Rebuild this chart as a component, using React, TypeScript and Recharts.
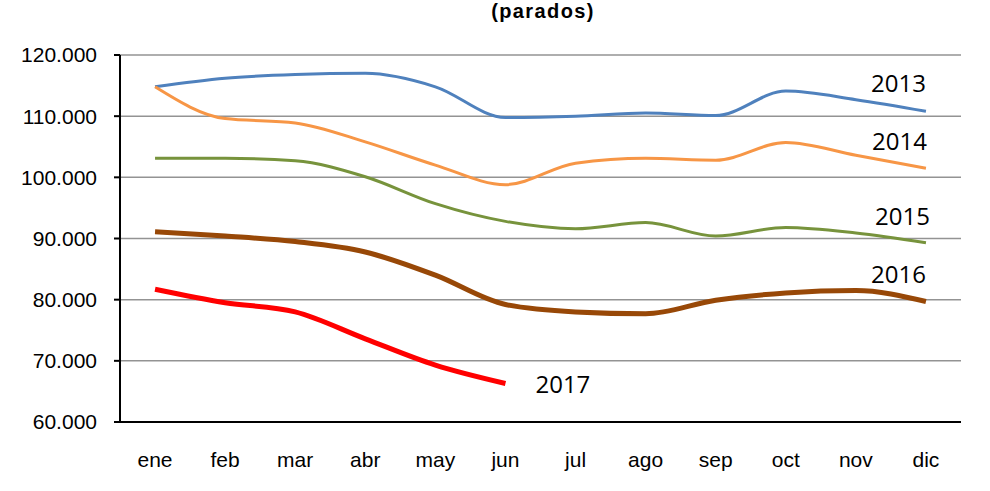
import { LineChart, Line, CartesianGrid, XAxis, YAxis, LabelList } from "recharts";

const months = ["ene", "feb", "mar", "abr", "may", "jun", "jul", "ago", "sep", "oct", "nov", "dic"];
const s2013 = [114800, 116200, 116800, 117000, 114800, 109800, 110000, 110500, 110100, 114100, 112700, 110800];
const s2014 = [114800, 109600, 108900, 105800, 102000, 98800, 102300, 103100, 102800, 105700, 103600, 101500];
const s2015 = [103100, 103100, 102700, 100100, 95700, 92800, 91600, 92600, 90400, 91800, 90900, 89300];
const s2016 = [91100, 90400, 89500, 87800, 84000, 79200, 78000, 77700, 79900, 81100, 81500, 79700];
const s2017 = [81700, 79500, 78000, 73600, 69300, 66300];
const yTicks = [60000, 70000, 80000, 90000, 100000, 110000, 120000];

const data = months.map((m, i) => ({
  mes: m,
  y2013: s2013[i],
  y2014: s2014[i],
  y2015: s2015[i],
  y2016: s2016[i],
  y2017: s2017[i],
}));

const fmt = (v: number) => `${Math.round(v / 1000)}.000`;

// label drawn only next to one point of the series
const yearLabel =
  (text: string, at: number, dx: number, dy: number, anchor: "start" | "end") =>
  (props: any) => {
    if (props.index !== at) return null;
    return (
      <text
        x={Number(props.x) + dx}
        y={Number(props.y) + dy}
        textAnchor={anchor}
        fontFamily="'Open Sans', sans-serif"
        fontSize={24}
        fill="#000"
      >
        {text}
      </text>
    );
  };

export default function App() {
  return (
    <div style={{ position: "absolute", left: 0, top: 0, width: 990, height: 491, background: "#fff" }}>
      <div
        style={{
          position: "absolute",
          left: 0,
          top: 0,
          width: 1086,
          textAlign: "center",
          fontFamily: "'Liberation Sans', Arial, sans-serif",
          fontWeight: "bold",
          fontSize: 20,
          lineHeight: "23px",
          letterSpacing: 1.4,
          color: "#000",
        }}
      >
        (parados)
      </div>
      <LineChart width={990} height={491} data={data} margin={{ top: 55, right: 29, bottom: 9, left: 0 }}>
        <CartesianGrid vertical={false} stroke="#939393" strokeWidth={1.5} />
        <XAxis
          dataKey="mes"
          scale="band"
          height={60}
          tickLine={false}
          tickMargin={24}
          axisLine={{ stroke: "#000", strokeWidth: 2 }}
          tick={{ fontSize: 21, fill: "#000", fontFamily: "'Liberation Sans', Arial, sans-serif" }}
        />
        <YAxis
          width={120}
          domain={[60000, 120000]}
          ticks={yTicks}
          tickFormatter={fmt}
          tickSize={6}
          tickMargin={17}
          interval={0}
          axisLine={{ stroke: "#000", strokeWidth: 2 }}
          tickLine={{ stroke: "#000", strokeWidth: 2 }}
          tick={{ fontSize: 21, fill: "#000", fontFamily: "'Liberation Sans', Arial, sans-serif" }}
        />
        <YAxis
          yAxisId="borde"
          orientation="right"
          width={0}
          tick={false}
          tickLine={false}
          axisLine={{ stroke: "#939393", strokeWidth: 2 }}
        />
        <Line type="monotone" dataKey="y2013" stroke="#4f81bd" strokeWidth={3} dot={false} isAnimationActive={false}>
          <LabelList dataKey="y2013" content={yearLabel("2013", 11, 0, -19, "end")} />
        </Line>
        <Line type="monotone" dataKey="y2014" stroke="#f79646" strokeWidth={3} dot={false} isAnimationActive={false}>
          <LabelList dataKey="y2014" content={yearLabel("2014", 11, 1, -18, "end")} />
        </Line>
        <Line type="monotone" dataKey="y2015" stroke="#77933c" strokeWidth={3} dot={false} isAnimationActive={false}>
          <LabelList dataKey="y2015" content={yearLabel("2015", 11, 4, -18, "end")} />
        </Line>
        <Line type="monotone" dataKey="y2016" stroke="#984807" strokeWidth={5} dot={false} isAnimationActive={false}>
          <LabelList dataKey="y2016" content={yearLabel("2016", 11, 0, -19, "end")} />
        </Line>
        <Line type="monotone" dataKey="y2017" stroke="#ff0000" strokeWidth={5} dot={false} isAnimationActive={false}>
          <LabelList dataKey="y2017" content={yearLabel("2017", 5, 30, 10, "start")} />
        </Line>
      </LineChart>
    </div>
  );
}
